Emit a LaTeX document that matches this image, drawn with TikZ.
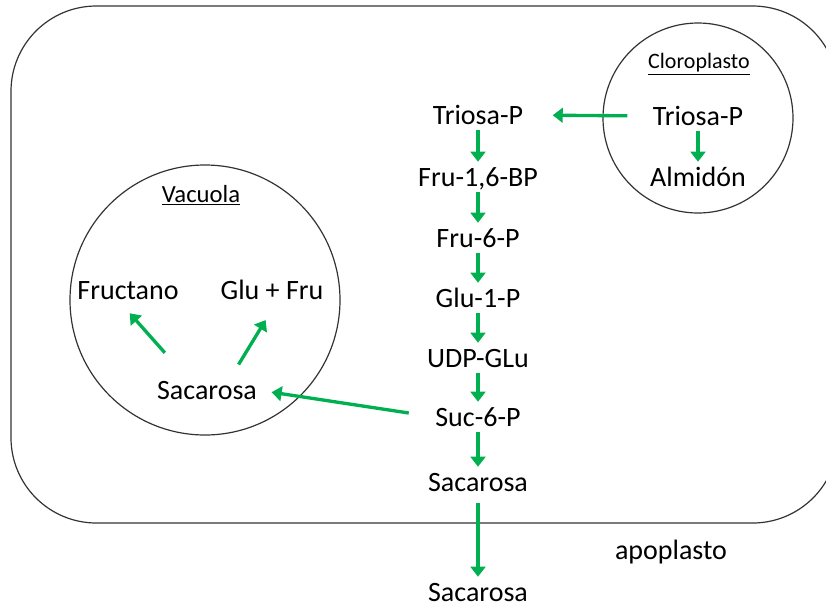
\documentclass[tikz,border=0pt]{standalone}
\usepackage{fontspec}
\setmainfont{Carlito}
\usetikzlibrary{arrows.meta}
\definecolor{mgreen}{RGB}{0, 176, 80}
\tikzset{flow/.style = {draw=mgreen, line width=2.5pt, -{Triangle[length=7.5pt, width=11pt]}}}
\tikzset{met/.style = {inner sep=0, text height=18pt, text depth=4.5pt, font=\fontsize{21}{25}\selectfont}}
\tikzset{ttl/.style = {inner sep=0, font=\fontsize{16.5}{20}\selectfont}}
\tikzset{wall/.style = {draw=black!80, line width=0.9pt}}

\begin{document}
\begin{tikzpicture}[x=0.75pt, y=-0.75pt]
    \useasboundingbox (0, 0) rectangle (826, 608);
    \draw [wall, rounded corners=64pt] (11, 6) rectangle (838, 523);
    \draw [wall] (698, 118) circle [radius=71.25pt];
    \draw [wall] (205, 300) circle [radius=101.25pt];

    \node [ttl] (clo) at (699, 64) {\underline{Cloroplasto}};
    \node [met] (ctri) at (698, 116) {Triosa-P};
    \node [met] (alm) at (698, 177) {Almidón};

    \node [met] (tri) at (478, 115) {Triosa-P};
    \node [met] (fbp) at (478, 177) {Fru-1,6-BP};
    \node [met] (f6p) at (478, 238) {Fru-6-P};
    \node [met] (g1p) at (478, 298) {Glu-1-P};
    \node [met] (udp) at (478, 358) {UDP-GLu};
    \node [met] (suc) at (478, 417) {Suc-6-P};
    \node [met] (sac) at (478, 482) {Sacarosa};
    \node [met] (asac) at (478, 592) {Sacarosa};
    \node [met] (apo) at (671, 550) {apoplasto};

    \node [ttl, font=\fontsize{18.5}{22}\selectfont] (vac) at (201, 195) {\underline{Vacuola}};
    \node [met] (fct) at (128, 290) {Fructano};
    \node [met] (gf) at (272, 290) {Glu + Fru};
    \node [met] (vsac) at (207, 390) {Sacarosa};

    \foreach \a/\b in {tri/fbp, fbp/f6p, f6p/g1p, g1p/udp, udp/suc, suc/sac} {
      \draw [flow] (\a) -- (\b);
    }
    \draw [flow, shorten <=4.5pt] (sac) -- (asac);
    \draw [flow] (ctri) -- (alm);
    \draw [flow, shorten <=19pt, shorten >=22pt] (ctri.west) -- (tri.east);
    \draw [flow, shorten <=20pt, shorten >=11pt] (suc.west) -- (vsac.east);
    \draw [flow, shorten <=22pt, shorten >=8pt] ([xshift=-17pt]vsac.north) -- ([xshift=-4pt]fct.south);
    \draw [flow, shorten <=9pt, shorten >=13pt] ([xshift=19pt]vsac.north) -- ([xshift=2pt]gf.south);
  \end{tikzpicture}
\end{document}
